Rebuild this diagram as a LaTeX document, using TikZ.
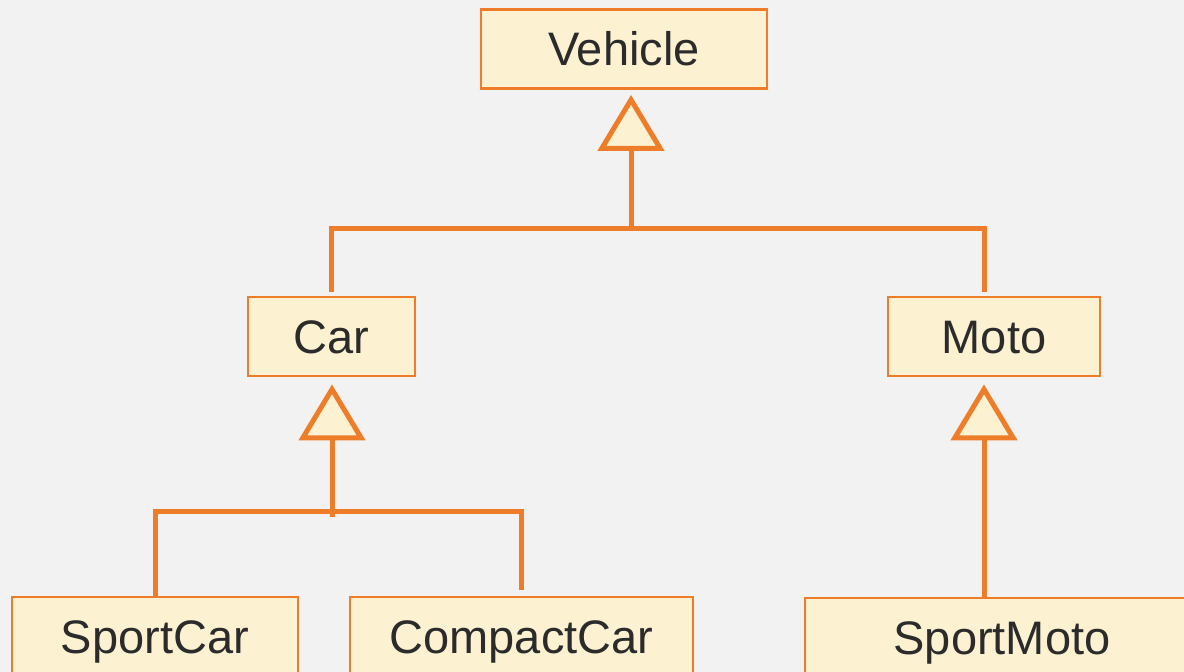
\documentclass[tikz,border=0pt]{standalone}
\usepackage{fontspec}
\setmainfont{Liberation Sans}
\usetikzlibrary{arrows.meta}
\definecolor{bgc}{HTML}{F2F2F2}
\definecolor{boxfill}{HTML}{FCF2D2}
\definecolor{orng}{HTML}{EE7D2A}
\definecolor{txt}{HTML}{2B2B2B}
\begin{document}
\begin{tikzpicture}[x=0.5pt,y=-0.5pt,
  cls/.style={draw=orng,fill=boxfill,line width=1.4pt,inner sep=0pt,
    text=txt,font=\fontsize{23.5}{26}\selectfont,text height=17pt,text depth=0pt,
    minimum height=39.5pt},
  link/.style={draw=orng,line width=2.5pt},
  inherit/.style={link,-{Triangle[width=33pt,length=28pt,fill=boxfill]}}]
\clip (0,0) rectangle (1184,672);
\fill[bgc] (0,0) rectangle (1184,672);

\node[cls,minimum width=143pt] (vehicle) at (624,49) {Vehicle};
\node[cls,minimum width=83.5pt] (car) at (331.5,336.5) {Car};
\node[cls,minimum width=106pt] (moto) at (994,336.5) {Moto};
\node[cls,minimum width=143pt,minimum height=40pt] (sportcar) at (155,637) {SportCar};
\node[cls,minimum width=171.5pt,minimum height=40pt] (compactcar) at (521.5,637) {CompactCar};
\node[cls,minimum width=197pt,minimum height=40pt] (sportmoto) at (1002,638) {SportMoto};

\coordinate (jveh) at (631,229);
\coordinate (jcar) at (332,512);
\coordinate (jmoto) at ([xshift=-5pt]moto.south);

\draw[link,shorten <=2pt,shorten >=2pt] (car.north) |- (jveh) -| ([xshift=-5pt]moto.north);
\draw[inherit,shorten >=2.5pt] (jveh) -- (jveh |- vehicle.south);

\draw[link] (sportcar.north) |- (jcar) -| ([yshift=3pt]compactcar.north);
\draw[inherit,shorten >=3.5pt] ([yshift=-2.5pt]jcar) -- (jcar |- car.south);

\draw[inherit,shorten >=3.5pt] (sportmoto.north -| jmoto) -- (jmoto);
\end{tikzpicture}
\end{document}
